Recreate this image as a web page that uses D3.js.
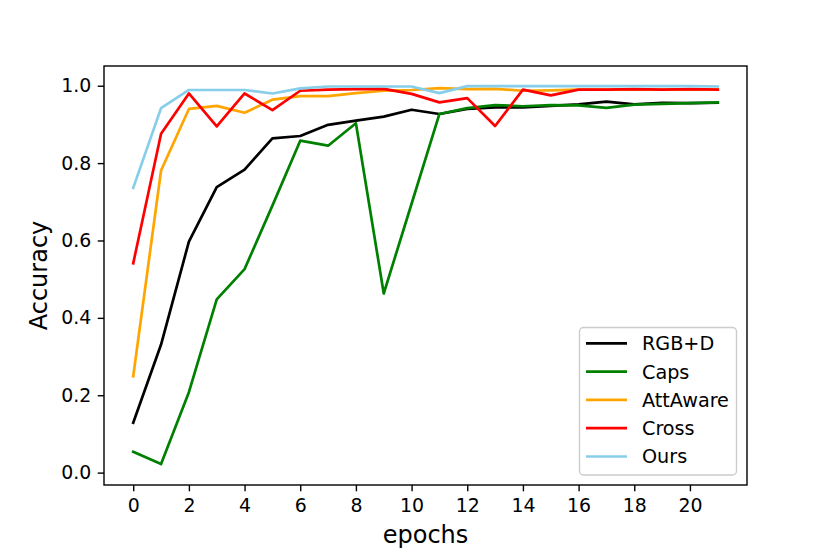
<!DOCTYPE html>
<html>
<head>
<meta charset="utf-8">
<script src="https://cdn.jsdelivr.net/npm/d3@7"></script>
<style>
  body { margin: 0; background: #fff; }
  svg { display: block; font-family: "DejaVu Sans", sans-serif; }
</style>
</head>
<body>
<div id="chart"></div>
<script>
// Datos
const epochs = [0, 1, 2, 3, 4, 5, 6, 7, 8, 9, 10, 11, 12, 13, 14, 15, 16, 17, 18, 19, 20, 21];
const rgbd = [0.129, 0.331, 0.597, 0.738, 0.783, 0.864, 0.870, 0.899, 0.910, 0.920, 0.938, 0.927, 0.940, 0.944, 0.944, 0.948, 0.952, 0.959, 0.952, 0.956, 0.955, 0.956];
const caps = [0.054, 0.022, 0.208, 0.448, 0.526, 0.690, 0.858, 0.845, 0.903, 0.463, 0.695, 0.927, 0.942, 0.950, 0.947, 0.950, 0.949, 0.943, 0.951, 0.953, 0.955, 0.957];
const attAware = [0.249, 0.781, 0.940, 0.948, 0.930, 0.964, 0.973, 0.973, 0.981, 0.987, 0.989, 0.994, 0.991, 0.992, 0.987, 0.988, 0.990, 0.990, 0.990, 0.990, 0.990, 0.990];
const cross = [0.541, 0.876, 0.980, 0.895, 0.980, 0.937, 0.987, 0.990, 0.991, 0.992, 0.979, 0.957, 0.968, 0.896, 0.990, 0.975, 0.990, 0.990, 0.991, 0.990, 0.991, 0.990];
const ours = [0.736, 0.942, 0.989, 0.989, 0.989, 0.980, 0.993, 0.998, 0.998, 0.998, 0.998, 0.981, 0.999, 0.999, 0.999, 0.999, 0.999, 0.999, 0.999, 0.999, 0.999, 0.998];

const seriesNames = ["RGB+D", "Caps", "AttAware", "Cross", "Ours"];
const seriesValues = [rgbd, caps, attAware, cross, ours];
const seriesColors = ["#000000", "#008000", "#ffa500", "#ff0000", "#87ceeb"];

const xTicks = [0, 2, 4, 6, 8, 10, 12, 14, 16, 18, 20];
const yTicks = [0.0, 0.2, 0.4, 0.6, 0.8, 1.0];

const width = 830, height = 554;
const plotLeft = 104, plotRight = 747, plotTop = 66, plotBottom = 485;

const svg = d3.select("#chart").append("svg")
    .attr("width", width)
    .attr("height", height);

// Escalas
const x = d3.scaleLinear().domain([-1.05, 22.05]).range([plotLeft, plotRight]);
const y = d3.scaleLinear().domain([-0.032, 1.051]).range([plotBottom, plotTop]);

// Líneas
const line = d3.line()
    .x((d, i) => x(epochs[i]))
    .y(d => y(d));

const plot = svg.append("g");
seriesValues.forEach((vals, k) => {
    plot.append("path")
        .datum(vals)
        .attr("fill", "none")
        .attr("stroke", seriesColors[k])
        .attr("stroke-width", 2.7)
        .attr("stroke-linejoin", "round")
        .attr("stroke-linecap", "square")
        .attr("d", line);
});

// Ejes
const xAxis = svg.append("g")
    .attr("transform", `translate(0,${plotBottom})`)
    .call(d3.axisBottom(x).tickValues(xTicks).tickSize(6.3).tickPadding(7.5).tickFormat(d3.format("d")));

const yAxis = svg.append("g")
    .attr("transform", `translate(${plotLeft},0)`)
    .call(d3.axisLeft(y).tickValues(yTicks).tickSize(6.3).tickPadding(6.5).tickFormat(d3.format(".1f")));

[xAxis, yAxis].forEach(a => {
    a.select(".domain").remove();
    a.selectAll(".tick line").attr("stroke", "#000").attr("stroke-width", 1.4);
    a.selectAll(".tick text")
        .attr("fill", "#000")
        .attr("font-size", "18.9px")
        .attr("font-family", "DejaVu Sans");
});

// Marco
svg.append("rect")
    .attr("x", plotLeft)
    .attr("y", plotTop)
    .attr("width", plotRight - plotLeft)
    .attr("height", plotBottom - plotTop)
    .attr("fill", "none")
    .attr("stroke", "#000")
    .attr("stroke-width", 1.4);

// Títulos de ejes
svg.append("text")
    .attr("x", (plotLeft + plotRight) / 2)
    .attr("y", 543)
    .attr("text-anchor", "middle")
    .attr("font-size", "24px")
    .text("epochs");

svg.append("text")
    .attr("transform", `translate(46.5,${(plotTop + plotBottom) / 2}) rotate(-90)`)
    .attr("text-anchor", "middle")
    .attr("font-size", "24px")
    .text("Accuracy");

// Leyenda
const legend = svg.append("g");
legend.append("rect")
    .attr("x", 579.5)
    .attr("y", 327.5)
    .attr("width", 157)
    .attr("height", 147.5)
    .attr("rx", 4)
    .attr("fill", "#fff")
    .attr("fill-opacity", 0.8)
    .attr("stroke", "#cccccc")
    .attr("stroke-width", 1.4);

seriesNames.forEach((name, i) => {
    const cy = 343.3 + i * 28.3;
    legend.append("line")
        .attr("x1", 586)
        .attr("x2", 627)
        .attr("y1", cy)
        .attr("y2", cy)
        .attr("stroke", seriesColors[i])
        .attr("stroke-width", 2.7);
    legend.append("text")
        .attr("x", 642)
        .attr("y", cy + 6.9)
        .attr("font-size", "19.2px")
        .text(name);
});
</script>
</body>
</html>
